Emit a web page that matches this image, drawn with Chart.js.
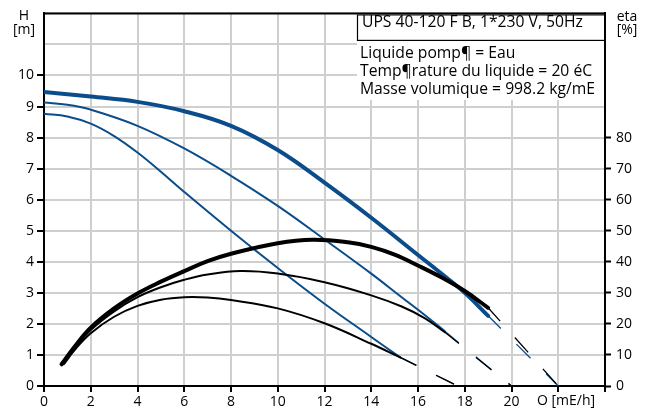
<!DOCTYPE html>
<html>
<head>
<meta charset="utf-8">
<script src="https://cdn.jsdelivr.net/npm/chart.js@4.4.1/dist/chart.umd.min.js"></script>
<style>
  html, body { margin: 0; padding: 0; background: #fff; }
  #wrap { width: 649px; height: 408px; }
</style>
</head>
<body>
<div id="wrap"><canvas id="pumpChart" width="649" height="408"></canvas></div>
<script>
'use strict';

// ── Courbes H (m) par vitesse ────────────────────────────
const qH3 = [0, 2, 4, 6, 8, 10, 12, 14, 16, 17, 18, 19];
const hSpeed3 = [9.47, 9.32, 9.15, 8.85, 8.38, 7.6, 6.55, 5.42, 4.22, 3.62, 3.0, 2.26];

const qH2 = [0, 1, 2, 4, 6, 8, 10, 12, 14, 15.3, 16.3, 17.15];
const hSpeed2 = [9.13, 9.06, 8.9, 8.38, 7.65, 6.77, 5.8, 4.72, 3.62, 2.86, 2.28, 1.76];

const qH1 = [0, 1, 2, 3, 4, 5, 6, 8, 10, 12, 14, 15.24];
const hSpeed1 = [8.77, 8.68, 8.45, 8.05, 7.52, 6.9, 6.25, 5.0, 3.8, 2.65, 1.58, 0.92];

// ── Courbes rendement eta (%) ────────────────────────────
const qE3 = [0.75, 1.3, 2, 3, 4, 5, 6, 7, 8, 10, 11.5, 13, 14, 15, 16, 17, 18, 19];
const etaSpeed3 = [7, 12.6, 18.8, 25, 29.8, 33.6, 37, 40.2, 42.6, 46, 47.1, 46.3, 44.8, 42.3, 38.8, 35, 30.6, 25.2];

const qE2 = [0.8, 1.3, 2, 3, 4, 5, 6, 7, 8.4, 10, 12, 14, 15.3, 16.3, 17.15];
const etaSpeed2 = [7, 12, 18, 24, 28.6, 31.8, 34.2, 35.9, 37, 36.2, 33.4, 29.2, 25.6, 21.8, 17.3];

const qE1 = [0.85, 1.3, 2, 3, 4, 5, 6, 7, 8, 10, 12, 14, 15.24];
const etaSpeed1 = [7, 11.5, 17, 22.3, 25.8, 27.8, 28.6, 28.5, 27.7, 25, 20.2, 13.6, 9.2];

// ── Prolongements en pointillés ──────────────────────────
const qExt3 = [19, 22];
const hExt3 = [2.26, 0];
const etaExt3 = [25.2, 0];
const qExt2 = [17.15, 20];
const hExt2 = [1.76, 0];
const etaExt2 = [17.3, 0];
const qExt1 = [15.24, 17.7];
const hExt1 = [0.92, 0];
const etaExt1 = [9.2, 0];

// ── Axes ─────────────────────────────────────────────────
const xTicks = [0, 2, 4, 6, 8, 10, 12, 14, 16, 18, 20];
const hTicks = [0, 1, 2, 3, 4, 5, 6, 7, 8, 9, 10];
const etaTicks = [0, 10, 20, 30, 40, 50, 60, 70, 80];

const infoTitle = 'UPS 40-120 F B, 1*230 V, 50Hz';
const infoLines = ['Liquide pomp¶ = Eau', 'Temp¶rature du liquide = 20 éC', 'Masse volumique = 998.2 kg/mE'];

const BLUE = '#0b4d8b';
const BLACK = '#000';
const GRID = '#cfcfcf';
const FONT = '"Open Sans", sans-serif';

Chart.defaults.font.family = FONT;
Chart.defaults.font.size = 14;
Chart.defaults.color = '#000';

function pts(qs, vs) {
    return qs.map((q, i) => ({ x: q, y: vs[i] }));
}

function curve(qs, vs, axis, color, width) {
    return {
        data: pts(qs, vs), yAxisID: axis, borderColor: color, borderWidth: width,
        pointRadius: 0, fill: false, tension: 0.4, borderCapStyle: 'round'
    };
}

function dashed(qs, vs, axis, color) {
    return {
        data: pts(qs, vs), yAxisID: axis, borderColor: color, borderWidth: 1.3,
        pointRadius: 0, fill: false, tension: 0, borderDash: [20, 22], borderDashOffset: 2
    };
}

const hide = 'rgba(0,0,0,0)';

// ── Cadre, légende et unités ─────────────────────────────
const decorPlugin = {
    id: 'decor',
    afterDatasetsDraw(chart) {
        const { ctx, chartArea: a } = chart;
        ctx.save();
        // bord supérieur
        ctx.strokeStyle = BLACK;
        ctx.lineWidth = 2;
        ctx.beginPath();
        ctx.moveTo(a.left - 1, a.top);
        ctx.lineTo(a.right + 1, a.top);
        ctx.stroke();

        // zone texte
        const bx = 357;
        ctx.fillStyle = '#fff';
        ctx.fillRect(bx, a.top + 1, a.right - bx - 1, 26);
        ctx.fillRect(bx, 39, a.right - bx - 1, 61);
        ctx.lineWidth = 1.2;
        ctx.strokeRect(bx + 0.5, a.top + 1.5, a.right - bx - 0.5, 25.5);

        ctx.fillStyle = BLACK;
        ctx.font = '15.7px ' + FONT;
        ctx.textAlign = 'left';
        ctx.textBaseline = 'alphabetic';
        ctx.fillText(infoTitle, 362, 27);
        infoLines.forEach((t, i) => ctx.fillText(t, 360, 58 + i * 17.8));

        // unités
        ctx.font = '14px ' + FONT;
        ctx.textAlign = 'center';
        ctx.fillText('H', 24, 20);
        ctx.fillText('[m]', 24, 34);
        ctx.fillText('eta', 627, 21);
        ctx.fillText('[%]', 627, 34);
        ctx.textBaseline = 'top';
        ctx.fillText('O [mE/h]', 566, a.bottom + 8);
        ctx.restore();
    }
};

const datasets = [
    curve(qE3, etaSpeed3, 'y2', BLACK, 4),
    curve(qE2, etaSpeed2, 'y2', BLACK, 2),
    curve(qE1, etaSpeed1, 'y2', BLACK, 2),
    dashed(qExt3, etaExt3, 'y2', BLACK),
    dashed(qExt2, etaExt2, 'y2', BLACK),
    dashed(qExt1, etaExt1, 'y2', BLACK),
    curve(qH3, hSpeed3, 'y', BLUE, 4),
    curve(qH2, hSpeed2, 'y', BLUE, 2),
    curve(qH1, hSpeed1, 'y', BLUE, 2),
    dashed(qExt3, hExt3, 'y', BLUE),
    dashed(qExt2, hExt2, 'y', BLUE),
    dashed(qExt1, hExt1, 'y', BLUE)
];

new Chart(document.getElementById('pumpChart'), {
    type: 'line',
    data: { datasets },
    plugins: [decorPlugin],
    options: {
        responsive: false,
        animation: false,
        layout: { padding: { top: 7 } },
        plugins: { legend: { display: false }, tooltip: { enabled: false } },
        scales: {
            x: {
                type: 'linear', min: 0, max: 24,
                ticks: {
                    stepSize: 2, maxRotation: 0, autoSkip: false, padding: 2,
                    callback: v => xTicks.includes(v) ? String(v) : ''
                },
                grid: { color: GRID, lineWidth: 2, tickColor: BLACK, tickLength: 6, tickWidth: 2 },
                border: { color: BLACK, width: 2 },
                afterFit: s => { s.height = 22; }
            },
            y: {
                position: 'left', min: 0, max: 12,
                ticks: {
                    stepSize: 1, padding: 3,
                    callback: v => hTicks.includes(v) ? String(v) : ''
                },
                grid: {
                    color: GRID, lineWidth: 2, tickLength: 7, tickWidth: 2,
                    tickColor: c => (c.tick && hTicks.includes(c.tick.value)) ? BLACK : hide
                },
                border: { color: BLACK, width: 2 },
                afterFit: s => { s.width = 44; }
            },
            y2: {
                position: 'right', min: 0, max: 120,
                ticks: {
                    stepSize: 10, padding: 5,
                    callback: v => etaTicks.includes(v) ? String(v) : ''
                },
                grid: {
                    drawOnChartArea: false, tickLength: 6, tickWidth: 2,
                    tickColor: c => (c.tick && etaTicks.includes(c.tick.value)) ? BLACK : hide
                },
                border: { color: BLACK, width: 2 },
                afterFit: s => { s.width = 44; }
            }
        }
    }
});
</script>
</body>
</html>
